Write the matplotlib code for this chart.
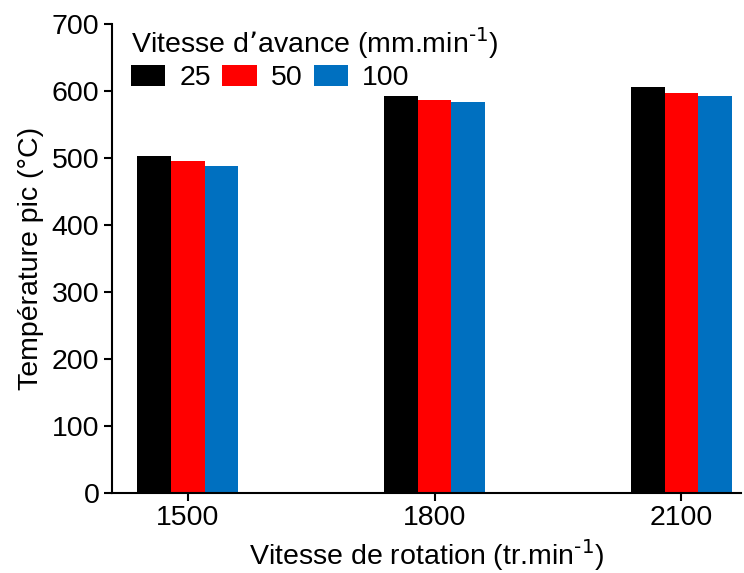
import matplotlib.pyplot as plt
import numpy as np

plt.rcParams['font.family'] = ['Liberation Sans', 'DejaVu Sans']

vitesses_rotation = ['1500', '1800', '2100']
avances = ['25', '50', '100']
temp_25 = [503, 593, 606]
temp_50 = [496, 587, 597]
temp_100 = [488, 584, 593]
couleurs = ['#000000', '#ff0000', '#0070c0']

fig = plt.figure(figsize=(7.44, 5.73), dpi=100)
ax = fig.add_axes([0.1505, 0.140, 0.845, 0.818])

x = np.arange(len(vitesses_rotation))
w = 0.137
for i, (serie, lab) in enumerate(zip([temp_25, temp_50, temp_100], avances)):
    ax.bar(x + (i - 1) * w, serie, w, color=couleurs[i], label=lab)

ax.set_xlim(-0.307, 2.24)
ax.set_ylim(0, 700)
ax.set_yticks(range(0, 701, 100))
ax.set_xticks(x)
ax.set_xticklabels(vitesses_rotation)

for s in ['top', 'right']:
    ax.spines[s].set_visible(False)
for s in ['left', 'bottom']:
    ax.spines[s].set_linewidth(1.5)
fs = 20.5
ax.tick_params(axis='both', labelsize=fs, length=6, width=1.5, direction='out', pad=3)

sup = '$^{\\text{-1}}$'
ax.set_xlabel('Vitesse de rotation (tr.min' + sup + ')', fontsize=fs, labelpad=4)
ax.set_ylabel('Température pic (°C)', fontsize=fs, labelpad=6)

leg = ax.legend(title='Vitesse d\u2019avance (mm.min' + sup + ')', ncol=3, loc='upper left',
                bbox_to_anchor=(0.003, 1.035), frameon=False, fontsize=fs, title_fontsize=fs,
                handlelength=1.2, handleheight=0.75, handletextpad=0.5, columnspacing=0.4,
                borderpad=0.1, labelspacing=0.15)
leg._legend_box.align = 'left'

plt.savefig('out.png', dpi=100)
